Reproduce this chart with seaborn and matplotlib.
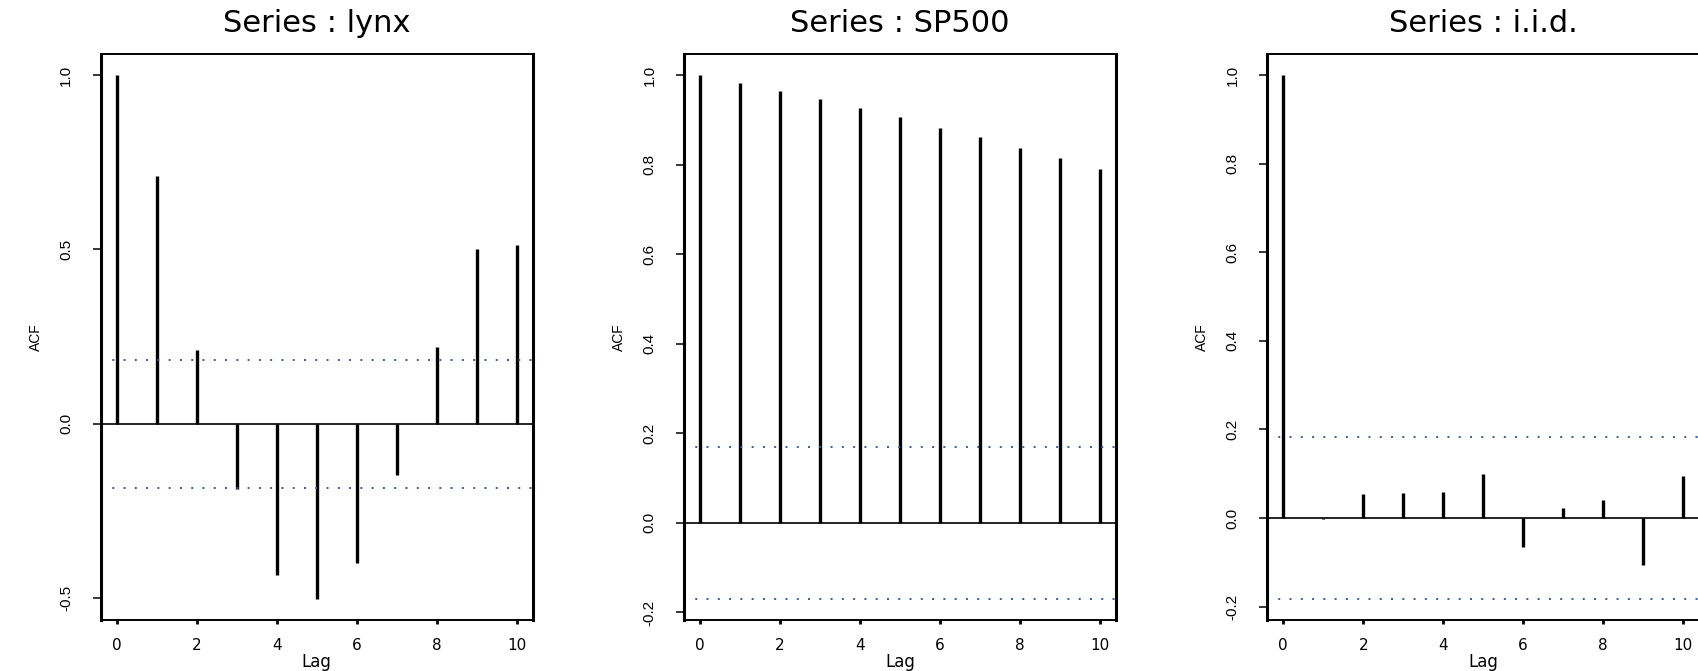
import matplotlib
matplotlib.use("Agg")
import matplotlib.pyplot as plt
from matplotlib import font_manager
from matplotlib.ticker import FormatStrFormatter
import seaborn as sns

# autocorrelations, lags 0..10
lags = [0, 1, 2, 3, 4, 5, 6, 7, 8, 9, 10]
lynx_acf = [1.0, 0.711, 0.213, -0.188, -0.434, -0.502, -0.400, -0.147, 0.219, 0.501, 0.514]
sp500_acf = [1.0, 0.981, 0.965, 0.947, 0.926, 0.906, 0.882, 0.861, 0.837, 0.815, 0.789]
iid_acf = [1.0, -0.003, 0.055, 0.057, 0.059, 0.099, -0.066, 0.022, 0.040, -0.106, 0.095]

series_names = ["lynx", "SP500", "i.i.d."]
conf_bounds = [0.1836, 0.170, 0.183]
ytick_sets = [
    [-0.5, 0.0, 0.5, 1.0],
    [-0.2, 0.0, 0.2, 0.4, 0.6, 0.8, 1.0],
    [-0.2, 0.0, 0.2, 0.4, 0.6, 0.8, 1.0],
]
xticks = [0, 2, 4, 6, 8, 10]

sns.set_style("white")
plt.rcParams["axes.unicode_minus"] = False
for key in ("text.color", "axes.labelcolor", "xtick.color", "ytick.color"):
    plt.rcParams[key] = "black"

installed = {f.name for f in font_manager.fontManager.ttflist}
narrow = "Liberation Sans Narrow" if "Liberation Sans Narrow" in installed else "Liberation Sans"
narrow_size = 12 if narrow == "Liberation Sans Narrow" else 11
wide = "DejaVu Sans"

W, H = 1698, 671
fig = plt.figure(figsize=(W / 100, H / 100), dpi=100)

ax_w = 432
ax_h = 566
lefts = [100.8, 684.0, 1267.2]
bottom = H - 620

for i, (name, acf, ci, yt) in enumerate(zip(series_names,
                                            [lynx_acf, sp500_acf, iid_acf],
                                            conf_bounds, ytick_sets)):
    ax = fig.add_axes([lefts[i] / W, bottom / H, ax_w / W, ax_h / H])

    ax.vlines(lags, 0, acf, color="black", linewidth=2.4)
    ax.axhline(0, color="black", linewidth=1.2)
    for b in (ci, -ci):
        ax.axhline(b, color="#2f5d9e", linewidth=1.4, linestyle=(0, (1, 4.8)))

    # R style 4% range extension
    lo = min(min(acf), -ci)
    hi = max(max(acf), ci)
    ext = 0.04 * (hi - lo)
    ax.set_ylim(lo - ext, hi + ext)
    ax.set_xlim(-0.4, 10.4)

    ax.set_xticks(xticks)
    ax.set_yticks(yt)
    ax.yaxis.set_major_formatter(FormatStrFormatter("%.1f"))
    ax.tick_params(axis="y", direction="out", length=5.8, width=1.1, pad=14,
                   labelrotation=90, left=True)
    ax.tick_params(axis="x", direction="out", length=2.9, width=2.0, pad=10,
                   bottom=True)
    for lab in ax.get_yticklabels():
        lab.set_family(narrow)
        lab.set_fontsize(narrow_size)
        lab.set_va("center")
    for lab in ax.get_xticklabels():
        lab.set_family(wide)
        lab.set_fontsize(11)

    for side in ("left", "right"):
        ax.spines[side].set_linewidth(2.2)
    for side in ("top", "bottom"):
        ax.spines[side].set_linewidth(1.4)
    for sp in ax.spines.values():
        sp.set_color("black")

    ax.set_xlabel("Lag", family=wide, fontsize=12, labelpad=0)
    ax.set_ylabel("ACF", family=narrow, fontsize=narrow_size - 1, labelpad=12)
    ax.set_title(f"Series : {name}", family=wide, fontsize=22, pad=16)

fig.savefig("out.png", dpi=100)
